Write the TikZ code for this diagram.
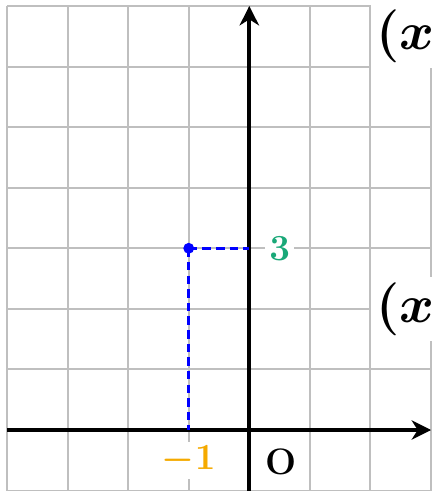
\documentclass[tikz,border=0pt]{standalone}
\usepackage{bm}
\usetikzlibrary{arrows.meta}
\definecolor{ptgreen}{RGB}{25,168,120}
\definecolor{ptorange}{RGB}{245,170,0}
\tikzset{
  gridline/.style={draw=black!25,line width=0.9pt},
  axisline/.style={line width=1.8pt,-{Stealth[length=3.2mm,width=3.2mm,inset=1mm]}},
  guide/.style={blue,line width=1.3pt,dash pattern=on 4pt off 2.4pt},
  ticklabel/.style={fill=white,inner sep=2pt,font=\LARGE},
  biglabel/.style={fill=white,anchor=west,inner sep=2.5pt,font=\Huge}
}
\begin{document}
\begin{tikzpicture}
\useasboundingbox (-4.116,-1.007) rectangle (3.016,7.099);
\draw[gridline] (-4,-1) grid (3,7);
\coordinate (xs) at (-4,0);
\coordinate (xe) at (3,0);
\coordinate (ys) at (0,-1);
\coordinate (ye) at (0,7);
\draw[axisline] (xs) -- (xe);
\draw[axisline] (ys) -- (ye);
\coordinate (P) at (-1,3);
\coordinate (Py) at (0,3);
\coordinate (Px) at (-1,0);
\draw[guide] (P) -- (Py);
\draw[guide] (P) -- (Px);
\fill[blue] (P) circle (0.09);
\node[ticklabel,text=ptgreen] (t3) at (0.5,3) {$\bm{3}$};
\node[ticklabel,text=ptorange] (tm1) at (-1,-0.5) {$\bm{-1}$};
\node[font=\LARGE\bfseries] (O) at (0.52,-0.52) {O};
\node[biglabel] (L1) at (2,6.5) {$\bm{(x}$};
\node[biglabel] (L2) at (2,2) {$\bm{(x}$};
\end{tikzpicture}
\end{document}
